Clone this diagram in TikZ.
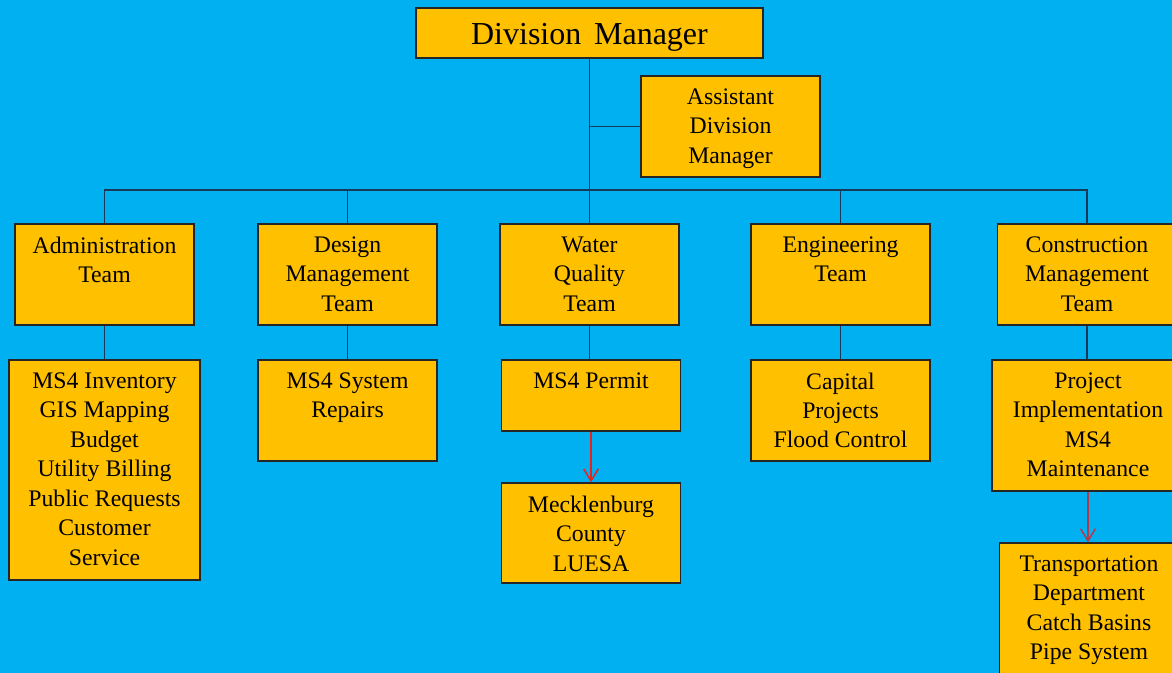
\documentclass[tikz,border=0pt]{standalone}
\usepackage{fontspec}
\setmainfont{Liberation Serif}
\usetikzlibrary{arrows.meta}
\definecolor{skyblue}{HTML}{00B0F0}
\definecolor{boxgold}{HTML}{FFC000}
\definecolor{wirecol}{HTML}{173B57}
\definecolor{arrowred}{HTML}{E8231E}
\definecolor{arrowdark}{HTML}{B23A4C}
\begin{document}
\begin{tikzpicture}[x=0.75pt,y=-0.75pt,
  box/.style={draw=black!85,line width=1.1pt,fill=boxgold,minimum width=134.25pt,minimum height=75.75pt,inner sep=0pt},
  lbl/.style={anchor=north,yshift=-9.8pt,align=center,inner sep=0pt,font=\fontsize{17.8}{22.1}\selectfont},
  txt/.style={label={[lbl]north:#1}},
  wire/.style={draw=wirecol,line width=1.4pt},
  redarrow/.style={line width=1.1pt,-{Straight Barb[length=9pt,width=11pt]}}]
\useasboundingbox (0,0) rectangle (1172,673);
\fill[skyblue] (0,0) rectangle (1172,673);
% top level
\node[box,minimum width=260.25pt,minimum height=37.5pt,text depth=0pt,font=\fontsize{24}{28}\selectfont] (dm) at (589.5,33) {\raisebox{-1.5pt}{Division\hspace{0.4em}Manager}};
\node[box,txt={Assistant\\Division\\Manager}] (asst) at (730.5,126.5) {};
\coordinate (bus) at (589.5,190);
% teams
\node[box,txt={Administration\\Team}] (adm) at (104.5,274.5) {};
\node[box,txt={Design\\Management\\Team}] (des) at (347.5,274.5) {};
\node[box,txt={Water\\Quality\\Team}] (wq) at (589.5,274.5) {};
\node[box,txt={Engineering\\Team}] (eng) at (840.5,274.5) {};
\node[box,txt={Construction\\Management\\Team}] (con) at (1087,274.5) {};
% duties
\node[box,minimum width=143.25pt,minimum height=165pt,txt={MS4 Inventory\\GIS Mapping\\Budget\\Utility Billing\\Public Requests\\Customer\\Service}] (admsub) at (104.5,470) {};
\node[box,txt={MS4 System\\Repairs}] (dessub) at (347.5,410.5) {};
\node[box,minimum height=53.25pt,txt={MS4 Permit}] (permit) at (591,395.5) {};
\node[box,txt={Capital\\Projects\\Flood Control}] (cap) at (840.5,410.5) {};
\node[box,minimum width=144pt,minimum height=98.25pt,txt={Project\\Implementation\\MS4\\Maintenance}] (proj) at (1088,425.5) {};
% outside agencies
\node[box,minimum height=75pt,txt={Mecklenburg\\County\\LUESA}] (meck) at (591,533) {};
\node[box,minimum height=98.25pt,txt={Transportation\\Department\\Catch Basins\\Pipe System}] (trans) at (1089,608.5) {};
% connectors
\draw[wire] (dm) -- (wq);
\draw[wire] (asst.west) -- (asst.west -| dm.south);
\draw[wire] (adm.north) |- (bus -| con.north) -- (con.north);
\foreach \t in {des,eng} \draw[wire] (\t.north) -- (\t.north |- bus);
\foreach \a/\b in {adm/admsub,des/dessub,wq/permit,eng/cap,con/proj} \draw[wire] (\a.south) -- (\a.south |- \b.north);
\draw[redarrow,arrowred] (permit.south) -- (permit.south |- meck.north);
\draw[redarrow,arrowdark] (proj.south) -- (proj.south |- trans.north);
\end{tikzpicture}
\end{document}
